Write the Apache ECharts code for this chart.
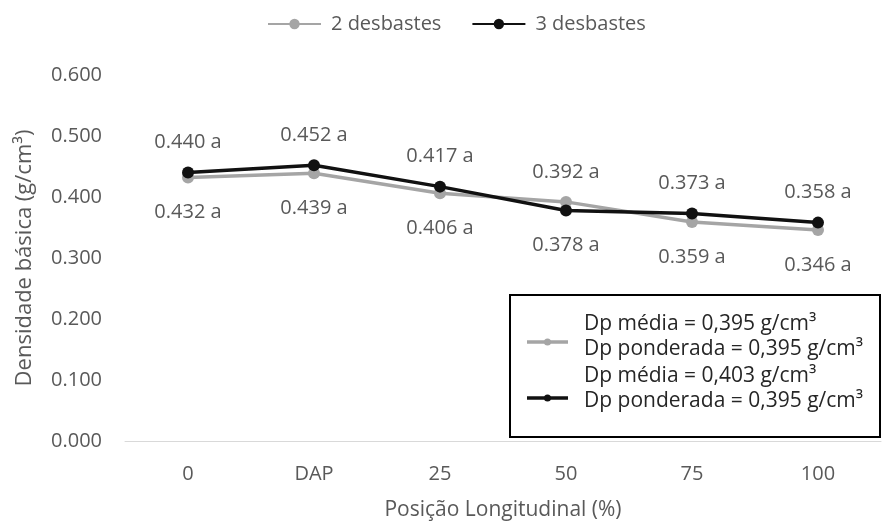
<!DOCTYPE html>
<html><head><meta charset="utf-8">
<script src="https://cdn.jsdelivr.net/npm/echarts@6/dist/echarts.min.js"></script>
<style>html,body{margin:0;padding:0;background:#fff}#c{width:891px;height:526px}</style>
</head><body><div id="c"></div>
<script>
const categories = ['0','DAP','25','50','75','100'];
const series2 = [0.432,0.439,0.406,0.392,0.359,0.346];
const series3 = [0.440,0.452,0.417,0.378,0.373,0.358];
const yTicks = [0,0.1,0.2,0.3,0.4,0.5,0.6];
const seriesNames = ['2 desbastes','3 desbastes'];
const boxLines = ['Dp média = 0,395 g/cm³','Dp ponderada = 0,395 g/cm³','Dp média = 0,403 g/cm³','Dp ponderada = 0,395 g/cm³'];

const FONT = 'Open Sans';
const TXT = '#595959';
const FS = 20;
const chart = echarts.init(document.getElementById('c'));

function mk(vals, other){
  return vals.map((v,i)=>{
    const above = v >= other[i];
    return {value:v, label:{position: above?'top':'bottom', distance: above?14:19}};
  });
}

chart.setOption({
  backgroundColor:'#fff',
  textStyle:{fontFamily:FONT},
  legend:{
    top:9, left:262, itemWidth:53, itemHeight:13, itemGap:30,
    textStyle:{fontFamily:FONT,fontSize:FS,color:TXT,padding:[0,0,0,5]},
    data:seriesNames
  },
  grid:{left:125,right:10,top:75,bottom:85},
  xAxis:{
    type:'category', data:categories, boundaryGap:true,
    axisLine:{lineStyle:{color:'#d9d9d9',width:1}},
    axisTick:{show:false},
    axisLabel:{fontFamily:FONT,fontSize:FS,color:TXT,margin:23},
    name:'Posição Longitudinal (%)', nameLocation:'middle', nameGap:59,
    nameTextStyle:{fontFamily:FONT,fontSize:21,color:TXT}
  },
  yAxis:{
    type:'value', min:0, max:0.6, interval:0.1,
    axisLine:{show:false}, axisTick:{show:false}, splitLine:{show:false},
    axisLabel:{fontFamily:FONT,fontSize:FS,color:TXT,margin:23,formatter:v=>v.toFixed(3)},
    name:'Densidade básica (g/cm³)', nameLocation:'middle', nameGap:89, nameRotate:90,
    nameTextStyle:{fontFamily:FONT,fontSize:22,color:TXT}
  },
  series:[
    {name:seriesNames[0], type:'line', data:mk(series2,series3), symbol:'circle', symbolSize:12,
     lineStyle:{color:'#a5a5a5',width:3.5}, itemStyle:{color:'#a5a5a5'},
     label:{show:true,fontFamily:FONT,fontSize:FS,color:TXT,formatter:p=>p.value.toFixed(3)+' a'},
     z:2},
    {name:seriesNames[1], type:'line', data:mk(series3,series2), symbol:'circle', symbolSize:12,
     lineStyle:{color:'#111',width:3.5}, itemStyle:{color:'#111'},
     label:{show:true,fontFamily:FONT,fontSize:FS,color:TXT,formatter:p=>p.value.toFixed(3)+' a'},
     z:3}
  ],
  graphic:[
    {type:'rect', shape:{x:510,y:295,width:370,height:142}, style:{fill:'#fff',stroke:'#000',lineWidth:2}, z:10},
    {type:'line', shape:{x1:527,y1:342,x2:568,y2:342}, style:{stroke:'#a5a5a5',lineWidth:3.5}, z:11},
    {type:'circle', shape:{cx:547.5,cy:342,r:3.5}, style:{fill:'#a5a5a5'}, z:11},
    {type:'line', shape:{x1:527,y1:398,x2:568,y2:398}, style:{stroke:'#111',lineWidth:3.5}, z:11},
    {type:'circle', shape:{cx:547.5,cy:398,r:3.5}, style:{fill:'#111'}, z:11},
    ...boxLines.map((t,i)=>({type:'text', x:584, y:[324,349,376,401][i], z:11,
      style:{text:t, fill:'#262626', font:'21px "'+FONT+'"', textVerticalAlign:'middle', verticalAlign:'middle'}}))
  ]
});
</script></body></html>
